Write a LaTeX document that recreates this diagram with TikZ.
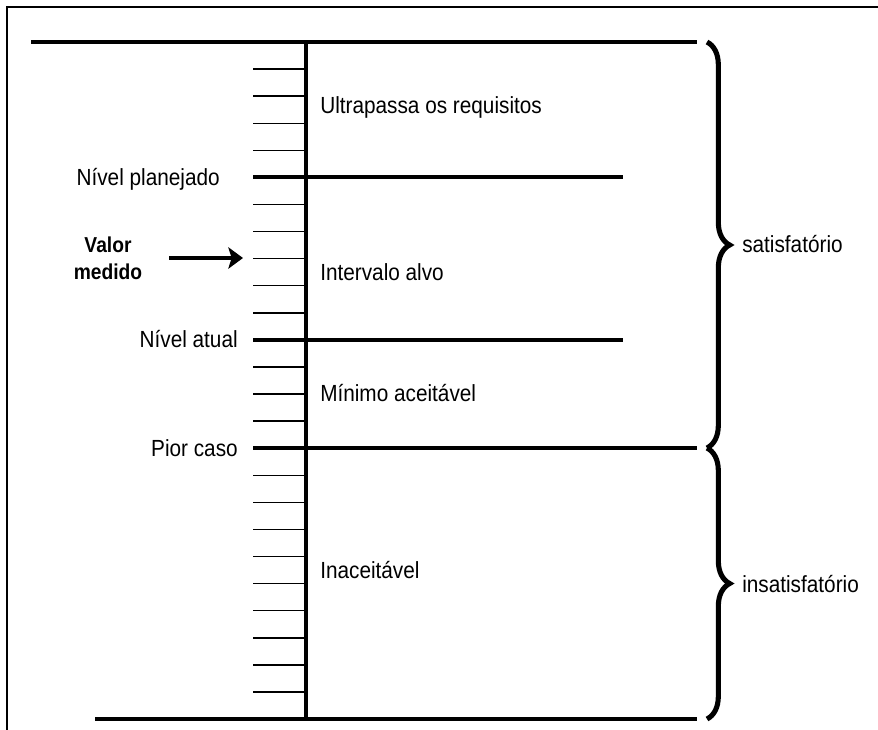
\documentclass[tikz,border=0pt]{standalone}
\usepackage{fontspec}
\setmainfont{Liberation Sans}[FakeStretch=0.89]
\usetikzlibrary{arrows.meta,decorations.pathreplacing}

\begin{document}
\begin{tikzpicture}[x=0.75pt,y=0.75pt,yscale=-1,xscale=1,
  lvl/.style={line width=3.2pt},
  tk/.style={line width=1.1pt},
  brc/.style={line width=3.8pt,decorate,decoration={brace,amplitude=17pt}},
  lbl/.style={font=\fontsize{17.5}{21}\selectfont,inner sep=0pt},
  bld/.style={font=\fontsize{16.2}{20.3}\selectfont\bfseries,inner sep=0pt,align=center},
  arr/.style={line width=3.6pt,-{Stealth[length=11pt,width=16pt,inset=2.5pt]}}]
\useasboundingbox (0,0) rectangle (878,729);

%Frame
\draw [line width=1pt] (880,7) -- (7,7) -- (7,731) ;

%Scale ticks
\foreach \k in {1,...,24}
  \draw [tk] (253,{42+27.08*\k}) -- (306,{42+27.08*\k}) ;

%Straight Lines
\draw [lvl] (31,42) -- (697,42) ;
\draw [lvl] (95,719) -- (697,719) ;
\draw [lvl] (306,42) -- (306,719) ;
\draw [lvl] (253,177) -- (623,177) ;
\draw [lvl] (253,340) -- (623,340) ;
\draw [lvl] (253,448) -- (697,448) ;

%Braces
\draw [brc] (707,42) -- (707,448) ;
\draw [brc] (707,448) -- (707,719) ;

% Text Node
\node [lbl,anchor=base east] (planejado) at (220,185) {Nível planejado};
% Text Node
\node [lbl,anchor=base east] (atual) at (238,347) {Nível atual};
% Text Node
\node [lbl,anchor=base east] (pior) at (238,456) {Pior caso};
% Text Node
\node [lbl,anchor=base west] (ultra) at (320,113) {Ultrapassa os requisitos};
% Text Node
\node [lbl,anchor=base west] (alvo) at (320,280) {Intervalo alvo};
% Text Node
\node [lbl,anchor=base west] (minimo) at (320,401) {Mínimo aceitável};
% Text Node
\node [lbl,anchor=base west] (inaceit) at (320,578) {Inaceitável};
% Text Node
\node [lbl,anchor=base west] (satisf) at (742,252) {satisfatório};
% Text Node
\node [lbl,anchor=base west] (insatisf) at (742,592) {insatisfatório};
% Text Node
\node [bld] (valor) at (108,258) {Valor\\medido};

%Arrow
\coordinate (medido) at (243,258);
\draw [arr,shorten <=20pt] (valor.east) -- (medido) ;

\end{tikzpicture}
\end{document}
